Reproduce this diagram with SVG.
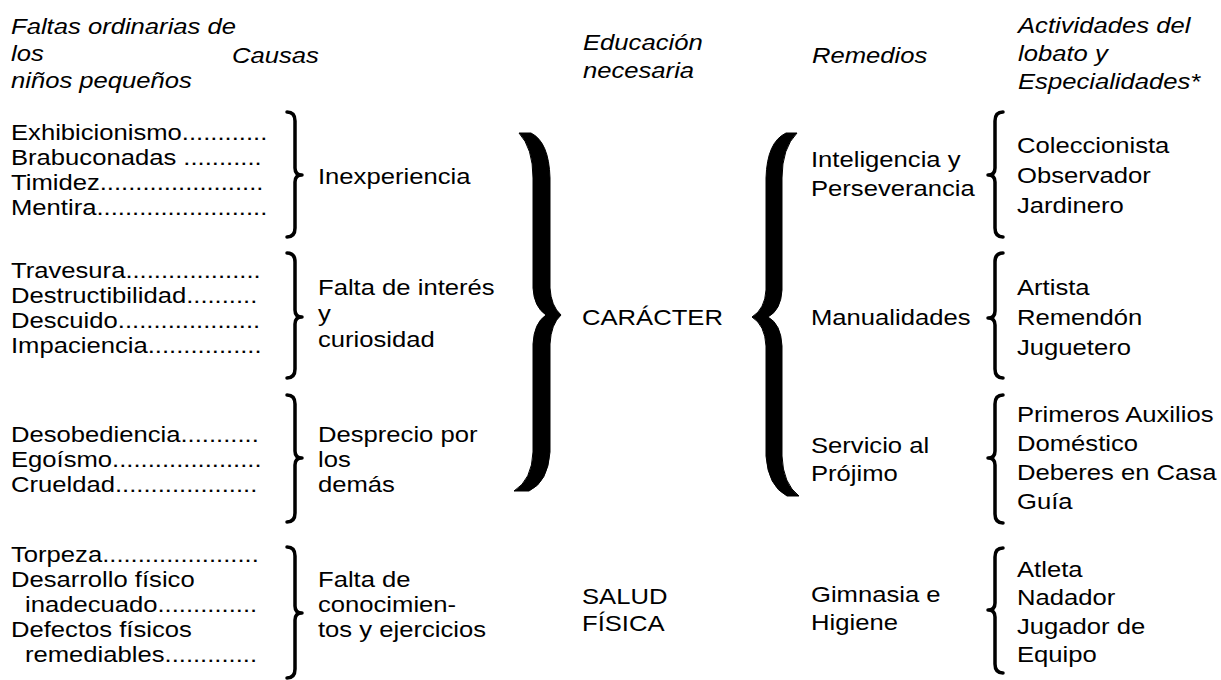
<svg xmlns="http://www.w3.org/2000/svg" width="1221" height="680" viewBox="0 0 1221 680">
<style>
.t{font-family:"Liberation Sans",Arial,sans-serif;font-size:22px;fill:#000}
.h{font-style:italic}
.sb{fill:none;stroke:#000;stroke-width:3.5;stroke-linecap:round;stroke-linejoin:round}
.bb{fill:#000;stroke:#000;stroke-width:1}
</style>
<rect width="1221" height="680" fill="#fff"/>
<!-- headers -->
<g id="h-faltas" transform="translate(11,34) scale(1.165 1)"><text class="t h"><tspan x="0" y="0">Faltas ordinarias de</tspan><tspan x="0" y="27">los</tspan><tspan x="0" y="54">niños pequeños</tspan></text></g>
<g id="h-causas" transform="translate(232,63) scale(1.165 1)"><text class="t h"><tspan x="0" y="0">Causas</tspan></text></g>
<g id="h-educacion" transform="translate(583,50) scale(1.165 1)"><text class="t h"><tspan x="0" y="0">Educación</tspan><tspan x="0" y="28">necesaria</tspan></text></g>
<g id="h-remedios" transform="translate(812,63) scale(1.165 1)"><text class="t h"><tspan x="0" y="0">Remedios</tspan></text></g>
<g id="h-actividades" transform="translate(1018,33) scale(1.165 1)"><text class="t h"><tspan x="0" y="0">Actividades del</tspan><tspan x="0" y="28">lobato y</tspan><tspan x="0" y="56">Especialidades*</tspan></text></g>
<!-- faults -->
<g id="faltas-1" transform="translate(11,140) scale(1.165 1)"><text class="t"><tspan x="0" y="0">Exhibicionismo............</tspan><tspan x="0" y="25">Brabuconadas ...........</tspan><tspan x="0" y="50">Timidez.......................</tspan><tspan x="0" y="75">Mentira........................</tspan></text></g>
<g id="faltas-2" transform="translate(11,278) scale(1.165 1)"><text class="t"><tspan x="0" y="0">Travesura...................</tspan><tspan x="0" y="25">Destructibilidad..........</tspan><tspan x="0" y="50">Descuido....................</tspan><tspan x="0" y="75">Impaciencia................</tspan></text></g>
<g id="faltas-3" transform="translate(11,442) scale(1.165 1)"><text class="t"><tspan x="0" y="0">Desobediencia...........</tspan><tspan x="0" y="25">Egoísmo.....................</tspan><tspan x="0" y="50">Crueldad....................</tspan></text></g>
<g id="faltas-4" transform="translate(11,562) scale(1.165 1)"><text class="t"><tspan x="0" y="0">Torpeza......................</tspan><tspan x="0" y="25">Desarrollo físico</tspan><tspan x="12" y="50">inadecuado..............</tspan><tspan x="0" y="75">Defectos físicos</tspan><tspan x="12" y="100">remediables.............</tspan></text></g>
<!-- causes -->
<g id="causa-1" transform="translate(318,184) scale(1.165 1)"><text class="t"><tspan x="0" y="0">Inexperiencia</tspan></text></g>
<g id="causa-2" transform="translate(318,295) scale(1.165 1)"><text class="t"><tspan x="0" y="0">Falta de interés</tspan><tspan x="0" y="26">y</tspan><tspan x="0" y="52">curiosidad</tspan></text></g>
<g id="causa-3" transform="translate(318,442) scale(1.165 1)"><text class="t"><tspan x="0" y="0">Desprecio por</tspan><tspan x="0" y="25">los</tspan><tspan x="0" y="50">demás</tspan></text></g>
<g id="causa-4" transform="translate(318,587) scale(1.165 1)"><text class="t"><tspan x="0" y="0">Falta de</tspan><tspan x="0" y="25">conocimien-</tspan><tspan x="0" y="50">tos y ejercicios</tspan></text></g>
<!-- education -->
<g id="edu-caracter" transform="translate(582,325) scale(1.165 1)"><text class="t"><tspan x="0" y="0">CARÁCTER</tspan></text></g>
<g id="edu-salud" transform="translate(582,604) scale(1.165 1)"><text class="t"><tspan x="0" y="0">SALUD</tspan><tspan x="0" y="27">FÍSICA</tspan></text></g>
<!-- remedies -->
<g id="rem-1" transform="translate(811,167) scale(1.165 1)"><text class="t"><tspan x="0" y="0">Inteligencia y</tspan><tspan x="0" y="29">Perseverancia</tspan></text></g>
<g id="rem-2" transform="translate(811,325) scale(1.165 1)"><text class="t"><tspan x="0" y="0">Manualidades</tspan></text></g>
<g id="rem-3" transform="translate(811,453) scale(1.165 1)"><text class="t"><tspan x="0" y="0">Servicio al</tspan><tspan x="0" y="28">Prójimo</tspan></text></g>
<g id="rem-4" transform="translate(811,602) scale(1.165 1)"><text class="t"><tspan x="0" y="0">Gimnasia e</tspan><tspan x="0" y="28">Higiene</tspan></text></g>
<!-- activities -->
<g id="act-1" transform="translate(1017,153) scale(1.165 1)"><text class="t"><tspan x="0" y="0">Coleccionista</tspan><tspan x="0" y="30">Observador</tspan><tspan x="0" y="60">Jardinero</tspan></text></g>
<g id="act-2" transform="translate(1017,295) scale(1.165 1)"><text class="t"><tspan x="0" y="0">Artista</tspan><tspan x="0" y="30">Remendón</tspan><tspan x="0" y="60">Juguetero</tspan></text></g>
<g id="act-3" transform="translate(1017,422) scale(1.165 1)"><text class="t"><tspan x="0" y="0">Primeros Auxilios</tspan><tspan x="0" y="29">Doméstico</tspan><tspan x="0" y="58">Deberes en Casa</tspan><tspan x="0" y="87">Guía</tspan></text></g>
<g id="act-4" transform="translate(1017,577) scale(1.165 1)"><text class="t"><tspan x="0" y="0">Atleta</tspan><tspan x="0" y="28.5">Nadador</tspan><tspan x="0" y="57">Jugador de</tspan><tspan x="0" y="85.5">Equipo</tspan></text></g>
<!-- braces -->
<g id="connectors">
<path class="sb" d="M287,112 Q295,112 295,121 L295,168 Q295,175 302,175 Q295,175 295,182 L295,228 Q295,237 287,237"/>
<path class="sb" d="M287,253 Q295,253 295,262 L295,310 Q295,317 302,317 Q295,317 295,324 L295,369 Q295,378 287,378"/>
<path class="sb" d="M287,395 Q295,395 295,404 L295,451 Q295,458 302,458 Q295,458 295,465 L295,513 Q295,522 287,522"/>
<path class="sb" d="M287,547 Q295,547 295,556 L295,606 Q295,613 302,613 Q295,613 295,620 L295,669 Q295,678 287,678"/>
<path class="bb" d="M519,133 L531,133 Q549,142 550,178 L550,288 Q551,306 561,315 Q551,324 550,344 L550,452 Q548,482 529,491 L514,491 Q532,480 533,452 L533,344 Q534,323 546,315 Q534,307 533,288 L533,178 Q533,148 519,133 Z"/>
<path class="bb" d="M797,133 L786,133 Q767,142 766,178 L766,290 Q765,309 752,317 Q765,325 766,346 L766,456 Q768,486 787,496 L799,496 Q783,484 782,456 L782,346 Q781,324 768,317 Q781,310 782,290 L782,178 Q782,148 797,133 Z"/>
<path class="sb" d="M1003,112 Q995,112 995,121 L995,168 Q995,175 988,175 Q995,175 995,182 L995,228 Q995,237 1003,237"/>
<path class="sb" d="M1003,253 Q995,253 995,262 L995,311 Q995,318 988,318 Q995,318 995,325 L995,369 Q995,378 1003,378"/>
<path class="sb" d="M1003,395 Q995,395 995,404 L995,451 Q995,458 988,458 Q995,458 995,465 L995,514 Q995,523 1003,523"/>
<path class="sb" d="M1003,548 Q995,548 995,557 L995,603 Q995,610 988,610 Q995,610 995,617 L995,664 Q995,673 1003,673"/>
</g>
</svg>
